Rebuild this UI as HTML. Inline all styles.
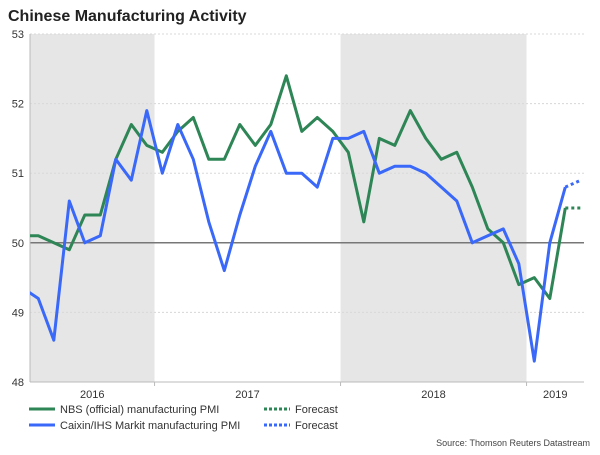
<!DOCTYPE html>
<html><head><meta charset="utf-8"><style>
body{margin:0;background:#fff;font-family:"Liberation Sans",Arial,sans-serif;}
svg text{font-family:"Liberation Sans",Arial,sans-serif;}
</style></head><body>
<svg id="chart" width="600" height="450" xmlns="http://www.w3.org/2000/svg">
<text x="8" y="21" font-size="16" font-weight="bold" fill="#222">Chinese Manufacturing Activity</text>
</svg>
<script>
const yTicks=[48,49,50,51,52,53];
const years=["2016","2017","2018","2019"];
const nbs=[50.1,50.1,50.0,49.9,50.4,50.4,51.2,51.7,51.4,51.3,51.6,51.8,51.2,51.2,51.7,51.4,51.7,52.4,51.6,51.8,51.6,51.3,50.3,51.5,51.4,51.9,51.5,51.2,51.3,50.8,50.2,50.0,49.4,49.5,49.2,50.5];
const caixin=[49.35,49.2,48.6,50.6,50.0,50.1,51.2,50.9,51.9,51.0,51.7,51.2,50.3,49.6,50.4,51.1,51.6,51.0,51.0,50.8,51.5,51.5,51.6,51.0,51.1,51.1,51.0,50.8,50.6,50.0,50.1,50.2,49.7,48.3,50.0,50.8];
const nbsForecast=[50.5,50.5];
const caixinForecast=[50.8,50.9];
const L=30,R=584,T=34,B=382;
const x0=22.8,dx=15.5;
function X(i){return x0+dx*i;}
function Y(v){return T+(53-v)*(B-T)/5;}
const svg=document.getElementById('chart');
const NS='http://www.w3.org/2000/svg';
function mk(tag,attrs,parent){const e=document.createElementNS(NS,tag);for(const k in attrs)e.setAttribute(k,attrs[k]);(parent||svg).appendChild(e);return e;}
const defs=mk('defs',{});const cp=mk('clipPath',{id:'clip'},defs);mk('rect',{x:L,y:T-5,width:R-L+6,height:B-T+10},cp);
let s1=mk('rect',{x:L,y:T,width:X(8.5)-L,height:B-T,fill:'#e6e6e6'});


let s2=mk('rect',{x:X(20.5),y:T,width:X(32.5)-X(20.5),height:B-T,fill:'#e6e6e6'});


yTicks.forEach(v=>{
 const g=mk('line',{x1:L,x2:R,y1:Y(v),y2:Y(v),stroke:v===50?'#777':'#d8d8d8','stroke-width':v===50?1.5:1,'stroke-dasharray':v===50?'':'2,2'});
 
 
 const t=mk('text',{x:L-6,y:Y(v)+4,'text-anchor':'end','font-size':11,fill:'#333'});t.textContent=v;
 
 
});
mk('line',{x1:L,x2:L,y1:T,y2:B,stroke:'#bbb'});
mk('line',{x1:L,x2:R,y1:B,y2:B,stroke:'#bbb'});
[8.5,20.5,32.5].forEach(i=>mk('line',{x1:X(i),x2:X(i),y1:B,y2:B+4,stroke:'#bbb'}));
const yearCenters=[(L+X(8.5))/2,(X(8.5)+X(20.5))/2,(X(20.5)+X(32.5))/2,(X(32.5)+R)/2];
years.forEach((y,k)=>{const t=mk('text',{x:yearCenters[k],y:398,'text-anchor':'middle','font-size':11,fill:'#333'});t.textContent=y;
 
 });
function line(arr,start,color,dash,name){
 const d=arr.map((v,i)=>(i?'L':'M')+X(start+i).toFixed(1)+','+Y(v).toFixed(1)).join('');
 const p=mk('path',{d:d,fill:'none',stroke:color,'stroke-width':3,'stroke-linejoin':'round','stroke-dasharray':dash,'clip-path':'url(#clip)'});
 
 
}
line(nbs,0,'#2e8555','','nbs-line');
line(caixin,0,'#3a68f8','','caixin-line');
line(nbsForecast,nbs.length-1,'#2e8555','3,3','nbs-forecast-line');
line(caixinForecast,caixin.length-1,'#3a68f8','3,3','caixin-forecast-line');
const leg=[[35,413,'#2e8555','','NBS (official) manufacturing PMI','legend-nbs'],[35,429,'#3a68f8','','Caixin/IHS Markit manufacturing PMI','legend-caixin'],[270,413,'#2e8555','3,2','Forecast','legend-nbs-forecast'],[270,429,'#3a68f8','3,2','Forecast','legend-caixin-forecast']];
leg.forEach(a=>{
 const g=mk('g',{});
 
 
 mk('line',{x1:a[0]-6,x2:a[0]+20,y1:a[1]-4,y2:a[1]-4,stroke:a[2],'stroke-width':3,'stroke-dasharray':a[3]},g);
 const t=mk('text',{x:a[0]+25,y:a[1],'font-size':11,fill:'#333'},g);t.textContent=a[4];
});
const src=mk('text',{x:590,y:446,'text-anchor':'end','font-size':9,fill:'#444'});src.textContent='Source: Thomson Reuters Datastream';


</script>
</body></html>
